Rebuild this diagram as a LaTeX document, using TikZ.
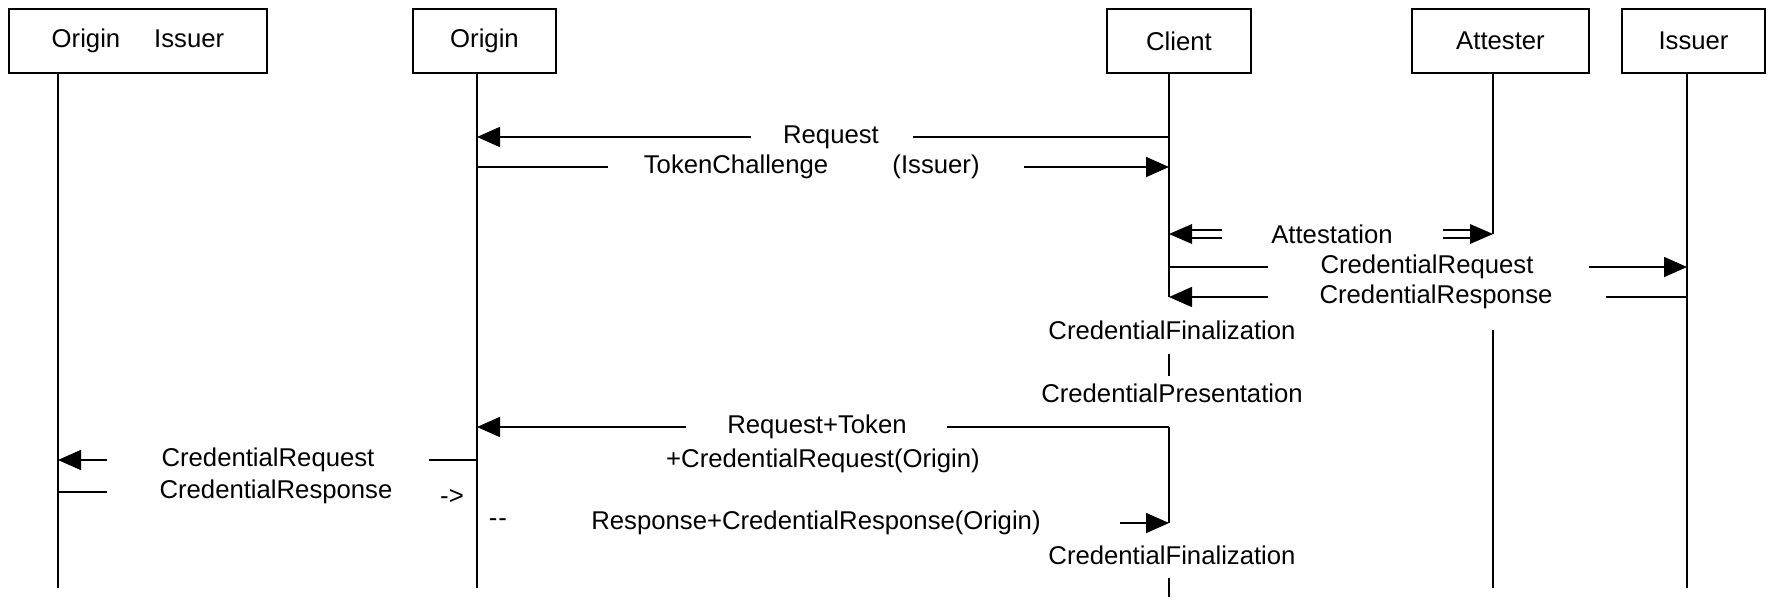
\documentclass[tikz,border=0pt]{standalone}
\usepackage{fontspec}
\setmainfont{Liberation Sans}
\usetikzlibrary{arrows.meta}
\begin{document}
\begin{tikzpicture}[x=0.5pt,y=-0.5pt,
  lbl/.style={font=\fontsize{12.85}{15}\selectfont, inner sep=0pt, anchor=center},
  actor/.style={draw, line width=0.8pt, minimum height=32pt, inner sep=0pt, font=\fontsize{12.85}{15}\selectfont},
  life/.style={line width=0.8pt},
  arr/.style={line width=0.8pt, -{Triangle[length=11.5pt,width=10pt]}},
  head/.style={fill=black},
  ]
\useasboundingbox (0,0) rectangle (1771,600);
% actors
\node[actor, minimum width=129pt] (oi) at (138,41) {Origin\hspace{17pt}Issuer};
\node[actor, minimum width=71.5pt] (or) at (484.5,41) {Origin};
\node[actor, minimum width=72pt] (cl) at (1179,41) {Client};
\node[actor, minimum width=88.5pt] (at) at (1500.5,41) {Attester};
\node[actor, minimum width=71.5pt] (is) at (1693.5,41) {Issuer};
% lifeline coordinates
\coordinate (oiT) at (58,73);   \coordinate (oiB) at (58,588);
\coordinate (orT) at (477,73);  \coordinate (orB) at (477,588);
\coordinate (clT) at (1169,73); \coordinate (clA) at (1169,297);
\coordinate (clC) at (1169,427); \coordinate (clD) at (1169,523);
\coordinate (clE) at (1169,578); \coordinate (clF) at (1169,597);
\coordinate (clG) at (1169,354); \coordinate (clH) at (1169,376);
\coordinate (atT) at (1493,73); \coordinate (atA) at (1493,234);
\coordinate (atC) at (1493,330); \coordinate (atB) at (1493,588);
\coordinate (isT) at (1687,73); \coordinate (isB) at (1687,588);
\draw[life] (oiT) -- (oiB);
\draw[life] (orT) -- (orB);
\draw[life] (clT) -- (clA);
\draw[life] (clG) -- (clH);
\draw[life] (clC) -- (clD);
\draw[life] (clE) -- (clF);
\draw[life] (atT) -- (atA);
\draw[life] (atC) -- (atB);
\draw[life] (isT) -- (isB);

% Request
\node[lbl] (t1) at (831,137) {Request};
\coordinate (r1a) at (1169,137); \coordinate (r1b) at (913,137);
\coordinate (r1c) at (751,137); \coordinate (r1d) at (477,137);
\draw[life] (r1a) -- (r1b);
\draw[arr] (r1c) -- (r1d);
% TokenChallenge
\node[lbl] (t2) at (736,167) {TokenChallenge};
\node[lbl] (t2b) at (936,167) {(Issuer)};
\coordinate (r2a) at (477,167); \coordinate (r2b) at (608,167);
\coordinate (r2c) at (1024,167); \coordinate (r2d) at (1169,167);
\draw[life] (r2a) -- (r2b);
\draw[arr] (r2c) -- (r2d);
% Attestation (double arrows)
\node[lbl] (t3) at (1332,234) {Attestation};
\coordinate (r3a) at (1169,234); \coordinate (r3b) at (1493,234);
\fill[head] (r3a) -- ++(23,-10) -- ++(0,20) -- cycle;
\draw[life] (1190,230) -- (1222,230) (1190,238) -- (1222,238);
\fill[head] (r3b) -- ++(-23,-10) -- ++(0,20) -- cycle;
\draw[life] (1443,230) -- (1472,230) (1443,238) -- (1472,238);
% CredentialRequest to Issuer
\node[lbl] (t4) at (1427,267) {CredentialRequest};
\coordinate (r4a) at (1169,267); \coordinate (r4b) at (1268,267);
\coordinate (r4c) at (1589,267); \coordinate (r4d) at (1687,267);
\draw[life] (r4a) -- (r4b);
\draw[arr] (r4c) -- (r4d);
% CredentialResponse from Issuer
\node[lbl] (t5) at (1436,297) {CredentialResponse};
\coordinate (r5a) at (1687,297); \coordinate (r5b) at (1606,297);
\coordinate (r5c) at (1268,297); \coordinate (r5d) at (1169,297);
\draw[life] (r5a) -- (r5b);
\draw[arr] (r5c) -- (r5d);
% client notes
\node[lbl] (t6) at (1172,330) {CredentialFinalization};
\node[lbl] (t7) at (1172,393) {CredentialPresentation};
% Request+Token
\node[lbl] (t8) at (817,427) {Request+Token};
\node[lbl] (t8b) at (823,461) {+CredentialRequest(Origin)};
\coordinate (r8a) at (1169,427); \coordinate (r8b) at (947,427);
\coordinate (r8c) at (686,427); \coordinate (r8d) at (477,427);
\draw[life] (r8a) -- (r8b);
\draw[arr] (r8c) -- (r8d);
% left CredentialRequest
\node[lbl] (t9) at (268,460) {CredentialRequest};
\coordinate (r9a) at (477,460); \coordinate (r9b) at (429,460);
\coordinate (r9c) at (107,460); \coordinate (r9d) at (58,460);
\draw[life] (r9a) -- (r9b);
\draw[arr] (r9c) -- (r9d);
% left CredentialResponse
\node[lbl] (t10) at (276,492) {CredentialResponse};
\node[lbl] (t10b) at (452,497) {->};
\coordinate (r10a) at (58,492); \coordinate (r10b) at (107,492);
\draw[life] (r10a) -- (r10b);
% Response
\node[lbl] (t11b) at (498,523) {-\kern0.5pt-};
\node[lbl] (t11) at (816,523) {Response+CredentialResponse(Origin)};
\coordinate (r11c) at (1120,523); \coordinate (r11d) at (1169,523);
\draw[arr] (r11c) -- (r11d);
\node[lbl] (t12) at (1172,555) {CredentialFinalization};
\end{tikzpicture}
\end{document}
